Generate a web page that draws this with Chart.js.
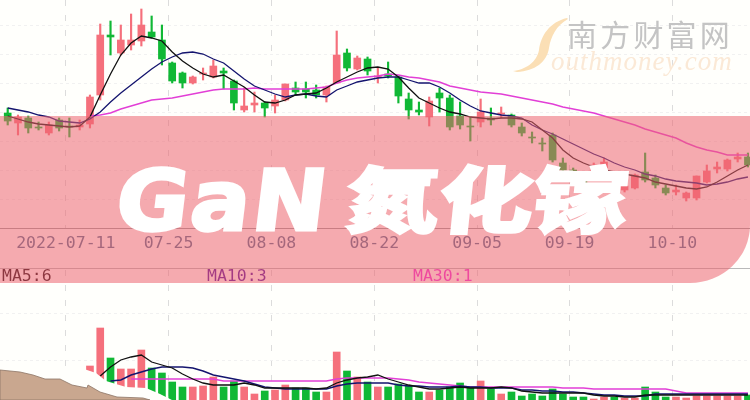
<!DOCTYPE html>
<html lang="zh">
<head>
<meta charset="utf-8">
<title>GaN氮化镓</title>
<script src="https://cdn.jsdelivr.net/npm/chart.js@4"></script>
<style>
  html, body { margin: 0; padding: 0; background: #fffffc; }
  #stage { position: relative; width: 750px; height: 400px; overflow: hidden; }
  #stage canvas { position: absolute; left: 0; top: 0; filter: blur(0.35px); }
  .ma { position: absolute; top: 267px; font: 16.5px/18px "DejaVu Sans Mono", monospace; z-index: 1; }
  #banner {
    position: absolute; left: 0; top: 116px; width: 750px; height: 167px; z-index: 2;
    background: rgba(236, 100, 112, 0.55);
    border-bottom-right-radius: 60px 58px;
  }
  .title { position: absolute; color: #fff; z-index: 3; white-space: nowrap; transform-origin: 0 0; -webkit-text-stroke: 3px #fff; }
  #wmCn { position: absolute; left: 567px; top: 13px; font: 400 30px/40px "Noto Sans CJK SC", sans-serif; letter-spacing: 3.2px; color: #c4c4c4; z-index: 1; }
  #wmEn { position: absolute; left: 551px; top: 45px; font: italic 400 27px/32px "Liberation Serif", serif; letter-spacing: 1px; color: #fbe9d6; z-index: 1; }
  svg.deco { position: absolute; left: 0; top: 0; z-index: 4; pointer-events: none; }
</style>
</head>
<body>
<div id="stage">
  <canvas id="klineChart" width="750" height="400"></canvas>
  <div id="wmCn">南方财富网</div>
  <div id="wmEn">outhmoney.com</div>
  <div class="ma" style="left:2px;color:#1a0008">MA5:6</div>
  <div class="ma" style="left:207px;color:#4c0a9a">MA10:3</div>
  <div class="ma" style="left:413px;color:#f02ad8">MA30:1</div>
  <div id="banner"></div>
  <div class="title" style="left:123px;top:151px;font:700 84px/100px 'DejaVu Sans',sans-serif;transform:skewX(-7deg) scale(1.05,1);letter-spacing:2px">GaN</div>
  <div class="title" style="left:350px;top:157px;font:900 94px/100px 'Noto Sans CJK SC',sans-serif;transform:skewX(-6deg) scale(1,0.77)">氮化镓</div>
  <svg class="deco" width="750" height="400">
    <path d="M567,18 C550,22 541,35 539,50 C537,62 525,70 513,71 L517,72 C535,71 547,62 549,48 C551,36 556,26 568,19 Z" fill="#fbdfb5"/>
    <path d="M75,366 L96,373 L106,381 L126,387 L146,388 L160,394 L172,400 L0,400 L0,366 Z" fill="#fffffc"/>
    <path d="M0,370 L20,372 L33,375 L45,379 L60,379 L72,385 L87,388 L88,385 L100,392 L117,397 L143,398 L150,400 L0,400 Z" fill="#c9a78f" stroke="#8d7566" stroke-width="0.8"/>
  </svg>
</div>
<script>
// candles, oldest first (price units of the picture's own axis)
const opens = [11.5,10.5,11.0,10.1,9.5,10.8,10.2,10.1,10.4,13.3,19.3,17.5,18.3,18.7,19.6,18.8,16.5,15.5,14.5,15.4,15.1,15.7,14.7,11.8,
  12.3,12.5,12.2,12.8,14.0,13.9,13.8,13.3,14.5,17.5,15.9,16.9,15.1,15.4,15.1,12.9,11.8,11.1,13.5,13.0,11.2,10.2,10.6,11.0,
  11.4,11.3,10.1,9.1,8.5,9.3,6.5,5.8,5.3,5.3,6.0,5.2,3.8,4.0,5.6,5.0,4.0,3.6,3.0,3.0,4.6,5.9,5.9,6.9,7.1];
const closes = [10.7,11.1,10.0,10.0,10.3,10.0,10.1,10.3,13.1,19.3,19.1,18.8,18.8,20.3,19.1,16.9,14.7,14.5,15.1,15.5,16.2,15.5,12.5,12.2,
  12.5,12.0,12.8,14.4,13.6,13.6,13.3,14.1,17.3,16.0,17.0,15.7,15.2,15.2,13.2,11.8,11.6,12.7,13.0,10.1,10.3,10.1,11.6,10.8,
  11.5,10.3,9.5,9.0,8.4,6.8,5.8,4.8,4.3,6.3,6.6,4.8,4.2,5.3,4.8,4.3,3.5,3.8,3.5,5.2,5.7,6.1,6.8,7.1,6.3];
const highs = [12.0,11.3,11.2,10.6,10.6,11.0,11.0,10.8,13.3,20.4,20.7,20.3,21.4,21.9,21.2,20.3,16.6,15.6,15.2,16.0,16.8,16.0,14.8,14.0,
  13.6,12.6,13.3,14.4,14.6,14.6,14.3,14.2,19.7,17.9,17.2,17.1,16.0,16.6,15.2,13.5,12.6,13.1,14.0,13.3,12.6,11.1,12.9,12.0,
  12.1,11.4,10.5,9.6,9.0,9.5,7.0,6.0,5.6,6.5,7.0,5.6,4.6,5.4,7.5,5.3,4.3,4.3,3.6,5.2,6.3,6.6,6.9,7.5,7.5];
const lows = [10.3,9.3,9.5,9.8,9.3,9.7,9.1,9.8,10.0,12.8,17.3,17.3,17.8,18.2,19.0,16.3,14.5,14.0,14.4,14.8,15.0,13.9,11.8,11.6,
  11.6,11.1,11.5,12.7,13.3,13.0,13.0,12.6,14.5,15.7,15.8,15.3,14.5,15.0,12.5,10.9,11.3,10.2,11.6,9.8,9.9,8.7,10.1,10.3,
  11.0,10.1,9.2,8.5,7.7,6.6,5.3,4.3,3.8,5.0,5.6,4.3,3.6,3.9,4.6,4.0,3.3,3.3,2.7,2.8,4.5,5.5,5.7,6.6,6.1];

// price moving averages
const ma5 = [11.2,10.9,10.6,10.4,10.3,10.2,10.1,10.2,11.1,13.3,15.4,17.3,18.5,19.2,19.0,18.7,17.6,16.7,16.0,15.4,15.1,15.3,14.7,14.1,
  13.3,12.6,12.5,12.8,13.3,13.4,13.5,14.0,14.6,15.1,15.6,16.0,16.1,15.9,15.1,14.0,13.0,12.5,12.0,11.6,11.4,11.1,11.0,10.9,
  11.0,11.0,10.9,10.6,9.8,9.0,7.8,7.0,6.5,6.1,5.8,5.6,5.4,5.2,5.0,4.6,4.4,4.2,4.0,3.9,4.1,4.6,5.2,5.8,6.3];
const ma10 = [12.0,11.8,11.6,11.3,11.1,10.7,10.6,10.5,10.9,11.6,12.6,13.5,14.3,15.1,15.9,16.6,17.1,17.5,17.6,17.4,16.9,16.5,15.7,14.9,
  14.2,13.8,13.4,13.1,13.3,13.4,13.2,13.1,13.8,14.2,14.6,14.8,15.0,15.1,15.1,14.8,14.5,14.5,14.1,13.5,12.8,12.2,11.7,11.5,
  11.3,11.2,11.0,10.3,9.8,9.4,8.9,8.4,7.9,7.4,7.0,6.5,6.1,5.8,5.4,5.2,4.9,4.7,4.6,4.5,4.3,4.4,4.6,4.9,5.1];
const ma30 = [null,null,null,null,null,null,null,null,11.2,11.3,11.5,11.9,12.2,12.5,12.8,12.9,13.0,13.2,13.4,13.6,13.8,13.9,13.9,13.9,
  14.0,13.9,13.9,13.9,13.9,13.9,14.0,14.1,14.5,14.8,15.0,15.1,15.2,15.4,15.3,15.1,15.0,14.8,14.6,14.2,14.0,13.8,13.6,13.5,
  13.4,13.2,13.0,12.8,12.6,12.4,12.1,11.9,11.7,11.5,11.2,10.9,10.6,10.3,9.9,9.6,9.3,9.0,8.5,8.1,7.8,7.6,7.3,7.3,7.3];

// volume and its averages
const volumes = [1.2,1.4,1.0,0.8,1.1,1.0,0.9,1.6,3.4,7.2,4.2,3.1,3.1,5.0,3.2,2.7,1.8,1.3,1.3,1.4,2.3,1.3,1.9,1.3,
  0.6,0.9,1.0,1.5,1.2,1.2,0.8,0.8,4.8,2.9,2.3,1.8,1.3,1.3,1.6,1.4,0.8,0.8,1.0,1.3,1.7,1.2,1.9,1.1,
  0.6,0.8,0.4,0.6,0.4,1.1,0.6,0.3,0.3,0.1,0.3,0.3,0.2,0.2,1.3,0.8,0.3,0.3,0.2,0.4,0.4,0.4,0.4,0.4,0.5];
const volMa5 = [null,null,null,null,null,null,null,null,null,2.4,3.3,4.0,4.3,4.5,3.8,3.5,3.2,2.6,2.1,1.7,1.5,1.5,1.5,1.7,
  1.5,1.2,1.2,1.2,1.2,1.2,1.1,1.2,1.7,2.0,2.2,2.3,2.5,2.1,1.8,1.5,1.3,1.1,1.1,1.2,1.3,1.2,1.2,1.2,
  1.3,1.2,0.9,0.8,0.7,0.7,0.7,0.7,0.7,0.5,0.4,0.4,0.3,0.3,0.5,0.5,0.5,0.5,0.5,0.5,0.5,0.5,0.5,0.5,0.5];
const volMa10 = [null,null,null,null,null,null,null,null,null,null,1.9,2.0,2.5,2.8,3.1,3.3,3.3,3.3,3.2,2.9,2.5,2.3,2.1,1.9,
  1.6,1.3,1.2,1.1,1.1,1.1,1.1,1.1,1.4,1.6,1.7,1.7,1.7,1.7,1.5,1.4,1.4,1.3,1.3,1.3,1.4,1.3,1.3,1.2,
  1.2,1.2,1.0,1.0,0.9,0.9,0.8,0.8,0.7,0.6,0.5,0.5,0.4,0.4,0.4,0.6,0.6,0.6,0.6,0.6,0.6,0.6,0.6,0.6,0.6];
const volMa30 = [null,null,null,null,null,null,null,null,null,null,null,null,2.1,2.1,2.1,2.1,2.1,2.1,2.1,2.1,2.1,1.9,1.9,1.9,
  1.9,1.9,1.9,1.9,1.9,1.9,1.9,1.9,2.1,2.2,2.2,2.2,2.2,2.2,2.1,2.0,1.8,1.7,1.6,1.5,1.4,1.3,1.3,1.3,
  1.3,1.3,1.3,1.3,1.3,1.3,1.2,1.2,1.2,1.1,1.1,1.1,1.1,1.1,1.1,1.1,1.1,0.9,0.7,0.7,0.7,0.7,0.7,0.7,0.7];

// axis
const tickIndexes = [6, 16, 26, 36, 46, 55, 65];
const tickLabels = ['2022-07-11', '07-25', '08-08', '08-22', '09-05', '09-19', '10-10'];
const priceGrid = [2.89, 5.78, 8.66, 11.55, 14.44, 17.33, 20.22];
const volumeGrid = [4.0, 8.7];
const dividerVolume = 13.2;

const RED = '#f5707c';
const GREEN = '#10b835';
const GRID_SHIFT = 0.35; // grid lines sit on the slot edge, not the candle centre

const candleColors = closes.map((c, i) => c >= opens[i] ? RED : GREEN);
const toPoints = arr => arr.map((v, i) => ({ x: i, y: v }));

function lineSet(values, color, width, axis) {
    return {
        type: 'line',
        data: toPoints(values),
        borderColor: color,
        borderWidth: width,
        pointRadius: 0,
        tension: 0,
        spanGaps: false,
        yAxisID: axis,
        order: 1
    };
}

// blanks the date strip between the two panes and draws its lower rule
const paneDivider = {
    id: 'paneDivider',
    beforeDatasetsDraw(chart) {
        const { ctx, scales } = chart;
        const top = scales.y.getPixelForValue(0) + 1;
        const bottom = scales.yVol.getPixelForValue(dividerVolume);
        ctx.save();
        ctx.fillStyle = '#fffffc';
        ctx.fillRect(0, top, chart.width, bottom - top);
        ctx.strokeStyle = '#b9b9b9';
        ctx.lineWidth = 1;
        ctx.beginPath();
        ctx.moveTo(0, bottom + 0.5);
        ctx.lineTo(chart.width, bottom + 0.5);
        ctx.stroke();
        ctx.restore();
    }
};

new Chart(document.getElementById('klineChart').getContext('2d'), {
    type: 'bar',
    data: {
        datasets: [
            lineSet(ma5, '#111111', 1.3, 'y'),
            lineSet(ma10, '#14146e', 1.3, 'y'),
            lineSet(ma30, '#e23fd6', 1.4, 'y'),
            lineSet(volMa5, '#111111', 1.3, 'yVol'),
            lineSet(volMa10, '#14146e', 1.5, 'yVol'),
            lineSet(volMa30, '#e23fd6', 1.4, 'yVol'),
            {
                data: opens.map((o, i) => ({ x: i, y: [o, closes[i]] })),
                backgroundColor: candleColors,
                barThickness: 7,
                grouped: false,
                yAxisID: 'y',
                order: 3
            },
            {
                data: highs.map((h, i) => ({ x: i, y: [lows[i], h] })),
                backgroundColor: candleColors,
                barThickness: 1.5,
                grouped: false,
                yAxisID: 'y',
                order: 4
            },
            {
                data: toPoints(volumes),
                backgroundColor: candleColors,
                barThickness: 7,
                grouped: false,
                yAxisID: 'yVol',
                order: 5
            }
        ]
    },
    options: {
        responsive: false,
        animation: false,
        layout: { padding: 0 },
        plugins: { legend: { display: false }, tooltip: { enabled: false } },
        scales: {
            x: {
                type: 'linear',
                offset: false,
                position: { y: 0 },
                min: -0.75,
                max: 72.2,
                afterBuildTicks: scale => {
                    scale.ticks = tickIndexes.map(i => ({ value: i - GRID_SHIFT }));
                },
                grid: { offset: false, color: '#dcdcdc', drawTicks: false },
                border: { dash: [6, 9], color: '#9c9c9c' },
                ticks: {
                    z: 1,
                    autoSkip: false,
                    maxRotation: 0,
                    padding: 6,
                    color: '#4e6b8c',
                    font: { family: '"DejaVu Sans Mono", monospace', size: 16.5 },
                    callback: (value, index) => tickLabels[index]
                }
            },
            y: {
                min: -17.2,
                max: 22.8,
                afterBuildTicks: scale => {
                    scale.ticks = priceGrid.map(v => ({ value: v }));
                },
                grid: { color: '#f1f1f1', drawTicks: false },
                border: { display: false, dash: [3, 3] },
                ticks: { display: false }
            },
            yVol: {
                min: 0,
                max: 40,
                afterBuildTicks: scale => {
                    scale.ticks = volumeGrid.map(v => ({ value: v }));
                },
                grid: { color: '#f1f1f1', drawTicks: false },
                border: { display: false, dash: [3, 3] },
                ticks: { display: false }
            }
        }
    },
    plugins: [paneDivider]
});
</script>
</body>
</html>
